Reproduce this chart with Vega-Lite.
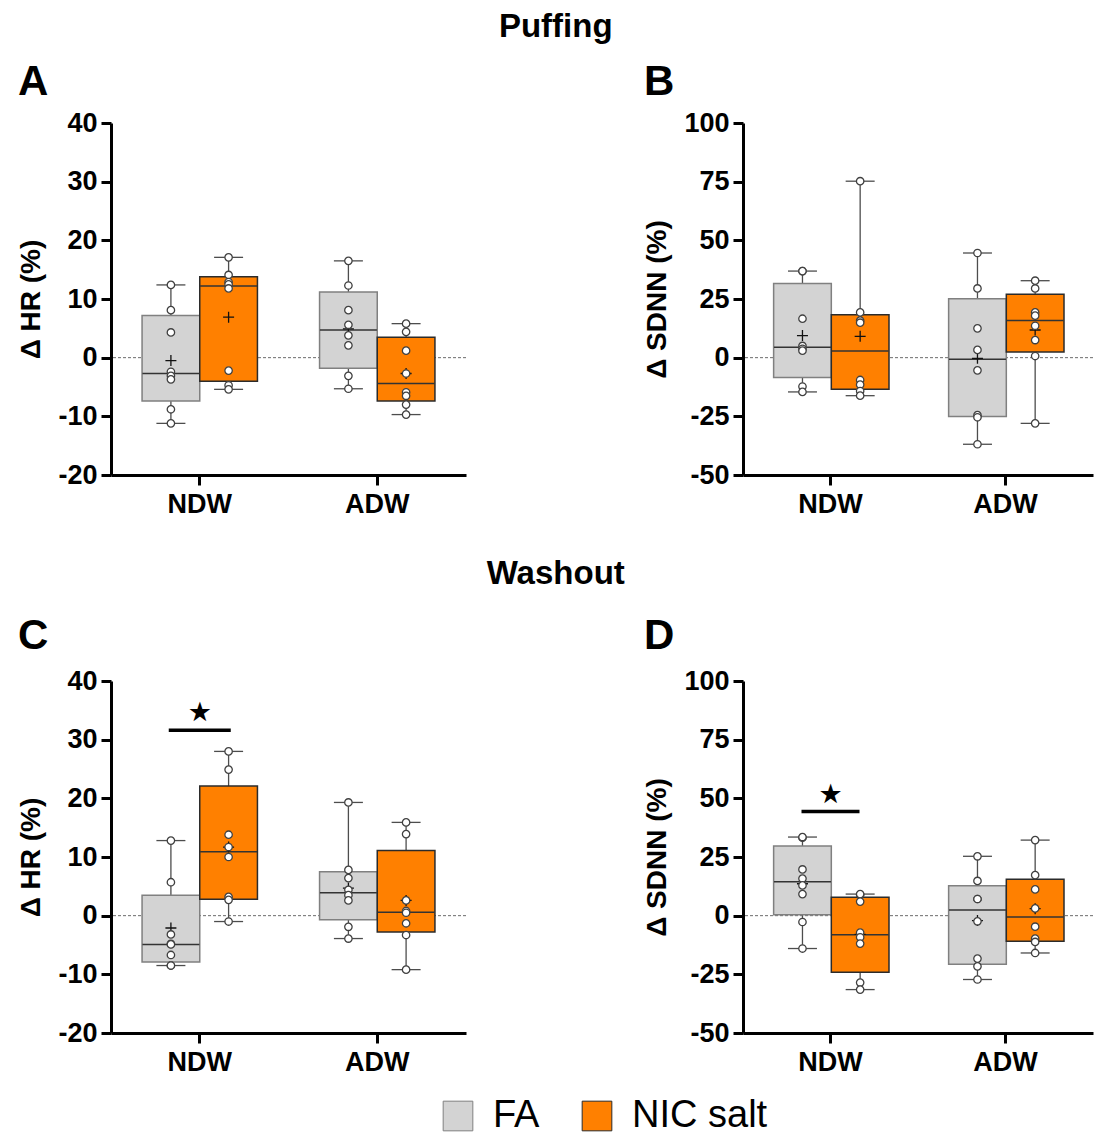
{
"$schema":"https://vega.github.io/schema/vega-lite/v6.json",
"padding":{"left":17,"top":11,"right":0,"bottom":0},
"background":"white",
"datasets":{
"boxes":[
{"panel":"A","window":"NDW","group":"FA","min":-11.2,"q1":-7.4,"median":-2.7,"q3":7.2,"max":12.4,"mean":-0.5},
{"panel":"A","window":"NDW","group":"NIC salt","min":-5.4,"q1":-4.0,"median":12.2,"q3":13.8,"max":17.1,"mean":6.9},
{"panel":"A","window":"ADW","group":"FA","min":-5.3,"q1":-1.8,"median":4.7,"q3":11.2,"max":16.5,"mean":4.9},
{"panel":"A","window":"ADW","group":"NIC salt","min":-9.7,"q1":-7.4,"median":-4.4,"q3":3.5,"max":5.8,"mean":-2.7},
{"panel":"B","window":"NDW","group":"FA","min":-14.6,"q1":-8.5,"median":4.4,"q3":31.6,"max":36.9,"mean":9.4},
{"panel":"B","window":"NDW","group":"NIC salt","min":-16.2,"q1":-13.5,"median":2.8,"q3":18.3,"max":75.2,"mean":9.1},
{"panel":"B","window":"ADW","group":"FA","min":-36.9,"q1":-25.1,"median":-0.7,"q3":25.1,"max":44.6,"mean":-0.3},
{"panel":"B","window":"ADW","group":"NIC salt","min":-28.0,"q1":2.4,"median":15.8,"q3":27.0,"max":32.8,"mean":11.8},
{"panel":"C","window":"NDW","group":"FA","min":-8.5,"q1":-7.9,"median":-4.9,"q3":3.5,"max":12.8,"mean":-2.1},
{"panel":"C","window":"NDW","group":"NIC salt","min":-1.0,"q1":2.8,"median":10.9,"q3":22.1,"max":28.0,"mean":11.7},
{"panel":"C","window":"ADW","group":"FA","min":-3.9,"q1":-0.7,"median":3.9,"q3":7.5,"max":19.3,"mean":4.7},
{"panel":"C","window":"ADW","group":"NIC salt","min":-9.2,"q1":-2.8,"median":0.6,"q3":11.1,"max":15.9,"mean":2.6},
{"panel":"D","window":"NDW","group":"FA","min":-14.0,"q1":0.4,"median":14.5,"q3":29.7,"max":33.5,"mean":13.6},
{"panel":"D","window":"NDW","group":"NIC salt","min":-31.5,"q1":-24.1,"median":-8.1,"q3":7.9,"max":9.2,"mean":-8.0},
{"panel":"D","window":"ADW","group":"FA","min":-27.2,"q1":-20.7,"median":2.4,"q3":12.8,"max":25.3,"mean":-2.1},
{"panel":"D","window":"ADW","group":"NIC salt","min":-15.9,"q1":-10.9,"median":-0.6,"q3":15.5,"max":32.2,"mean":3.0}
],
"points":[
{"panel":"A","window":"NDW","group":"FA","value":12.4},{"panel":"A","window":"NDW","group":"FA","value":8.1},{"panel":"A","window":"NDW","group":"FA","value":4.3},{"panel":"A","window":"NDW","group":"FA","value":-2.4},{"panel":"A","window":"NDW","group":"FA","value":-3.1},{"panel":"A","window":"NDW","group":"FA","value":-3.7},{"panel":"A","window":"NDW","group":"FA","value":-8.8},{"panel":"A","window":"NDW","group":"FA","value":-11.2},
{"panel":"A","window":"NDW","group":"NIC salt","value":17.1},{"panel":"A","window":"NDW","group":"NIC salt","value":14.1},{"panel":"A","window":"NDW","group":"NIC salt","value":12.9},{"panel":"A","window":"NDW","group":"NIC salt","value":12.5},{"panel":"A","window":"NDW","group":"NIC salt","value":11.8},{"panel":"A","window":"NDW","group":"NIC salt","value":-2.2},{"panel":"A","window":"NDW","group":"NIC salt","value":-4.7},{"panel":"A","window":"NDW","group":"NIC salt","value":-5.4},
{"panel":"A","window":"ADW","group":"FA","value":16.5},{"panel":"A","window":"ADW","group":"FA","value":12.3},{"panel":"A","window":"ADW","group":"FA","value":8.1},{"panel":"A","window":"ADW","group":"FA","value":5.6},{"panel":"A","window":"ADW","group":"FA","value":3.8},{"panel":"A","window":"ADW","group":"FA","value":2.1},{"panel":"A","window":"ADW","group":"FA","value":-3.1},{"panel":"A","window":"ADW","group":"FA","value":-5.3},
{"panel":"A","window":"ADW","group":"NIC salt","value":5.8},{"panel":"A","window":"ADW","group":"NIC salt","value":4.4},{"panel":"A","window":"ADW","group":"NIC salt","value":1.2},{"panel":"A","window":"ADW","group":"NIC salt","value":-2.7},{"panel":"A","window":"ADW","group":"NIC salt","value":-5.9},{"panel":"A","window":"ADW","group":"NIC salt","value":-6.5},{"panel":"A","window":"ADW","group":"NIC salt","value":-8.0},{"panel":"A","window":"ADW","group":"NIC salt","value":-9.7},
{"panel":"B","window":"NDW","group":"FA","value":36.9},{"panel":"B","window":"NDW","group":"FA","value":36.9},{"panel":"B","window":"NDW","group":"FA","value":16.6},{"panel":"B","window":"NDW","group":"FA","value":5.0},{"panel":"B","window":"NDW","group":"FA","value":3.8},{"panel":"B","window":"NDW","group":"FA","value":3.0},{"panel":"B","window":"NDW","group":"FA","value":-12.3},{"panel":"B","window":"NDW","group":"FA","value":-14.6},
{"panel":"B","window":"NDW","group":"NIC salt","value":75.2},{"panel":"B","window":"NDW","group":"NIC salt","value":19.3},{"panel":"B","window":"NDW","group":"NIC salt","value":15.8},{"panel":"B","window":"NDW","group":"NIC salt","value":14.9},{"panel":"B","window":"NDW","group":"NIC salt","value":-9.5},{"panel":"B","window":"NDW","group":"NIC salt","value":-11.5},{"panel":"B","window":"NDW","group":"NIC salt","value":-14.2},{"panel":"B","window":"NDW","group":"NIC salt","value":-16.2},
{"panel":"B","window":"ADW","group":"FA","value":44.6},{"panel":"B","window":"ADW","group":"FA","value":29.5},{"panel":"B","window":"ADW","group":"FA","value":12.5},{"panel":"B","window":"ADW","group":"FA","value":3.3},{"panel":"B","window":"ADW","group":"FA","value":-5.4},{"panel":"B","window":"ADW","group":"FA","value":-24.5},{"panel":"B","window":"ADW","group":"FA","value":-25.4},{"panel":"B","window":"ADW","group":"FA","value":-36.9},
{"panel":"B","window":"ADW","group":"NIC salt","value":32.8},{"panel":"B","window":"ADW","group":"NIC salt","value":29.5},{"panel":"B","window":"ADW","group":"NIC salt","value":19.3},{"panel":"B","window":"ADW","group":"NIC salt","value":17.9},{"panel":"B","window":"ADW","group":"NIC salt","value":13.6},{"panel":"B","window":"ADW","group":"NIC salt","value":7.5},{"panel":"B","window":"ADW","group":"NIC salt","value":0.7},{"panel":"B","window":"ADW","group":"NIC salt","value":-28.0},
{"panel":"C","window":"NDW","group":"FA","value":12.8},{"panel":"C","window":"NDW","group":"FA","value":5.7},{"panel":"C","window":"NDW","group":"FA","value":-3.2},{"panel":"C","window":"NDW","group":"FA","value":-4.8},{"panel":"C","window":"NDW","group":"FA","value":-4.9},{"panel":"C","window":"NDW","group":"FA","value":-6.7},{"panel":"C","window":"NDW","group":"FA","value":-8.5},{"panel":"C","window":"NDW","group":"FA","value":-8.5},
{"panel":"C","window":"NDW","group":"NIC salt","value":28.0},{"panel":"C","window":"NDW","group":"NIC salt","value":24.9},{"panel":"C","window":"NDW","group":"NIC salt","value":13.8},{"panel":"C","window":"NDW","group":"NIC salt","value":11.7},{"panel":"C","window":"NDW","group":"NIC salt","value":10.0},{"panel":"C","window":"NDW","group":"NIC salt","value":3.2},{"panel":"C","window":"NDW","group":"NIC salt","value":2.7},{"panel":"C","window":"NDW","group":"NIC salt","value":-1.0},
{"panel":"C","window":"ADW","group":"FA","value":19.3},{"panel":"C","window":"ADW","group":"FA","value":7.8},{"panel":"C","window":"ADW","group":"FA","value":6.4},{"panel":"C","window":"ADW","group":"FA","value":4.4},{"panel":"C","window":"ADW","group":"FA","value":3.5},{"panel":"C","window":"ADW","group":"FA","value":2.6},{"panel":"C","window":"ADW","group":"FA","value":-1.9},{"panel":"C","window":"ADW","group":"FA","value":-3.9},
{"panel":"C","window":"ADW","group":"NIC salt","value":15.9},{"panel":"C","window":"ADW","group":"NIC salt","value":13.9},{"panel":"C","window":"ADW","group":"NIC salt","value":2.6},{"panel":"C","window":"ADW","group":"NIC salt","value":0.8},{"panel":"C","window":"ADW","group":"NIC salt","value":0.5},{"panel":"C","window":"ADW","group":"NIC salt","value":-1.3},{"panel":"C","window":"ADW","group":"NIC salt","value":-3.3},{"panel":"C","window":"ADW","group":"NIC salt","value":-9.2},
{"panel":"D","window":"NDW","group":"FA","value":33.2},{"panel":"D","window":"NDW","group":"FA","value":33.5},{"panel":"D","window":"NDW","group":"FA","value":19.7},{"panel":"D","window":"NDW","group":"FA","value":15.8},{"panel":"D","window":"NDW","group":"FA","value":12.9},{"panel":"D","window":"NDW","group":"FA","value":9.2},{"panel":"D","window":"NDW","group":"FA","value":-2.7},{"panel":"D","window":"NDW","group":"FA","value":-14.0},
{"panel":"D","window":"NDW","group":"NIC salt","value":8.9},{"panel":"D","window":"NDW","group":"NIC salt","value":9.2},{"panel":"D","window":"NDW","group":"NIC salt","value":6.0},{"panel":"D","window":"NDW","group":"NIC salt","value":-7.2},{"panel":"D","window":"NDW","group":"NIC salt","value":-9.2},{"panel":"D","window":"NDW","group":"NIC salt","value":-11.9},{"panel":"D","window":"NDW","group":"NIC salt","value":-28.5},{"panel":"D","window":"NDW","group":"NIC salt","value":-31.5},
{"panel":"D","window":"ADW","group":"FA","value":25.3},{"panel":"D","window":"ADW","group":"FA","value":14.8},{"panel":"D","window":"ADW","group":"FA","value":7.1},{"panel":"D","window":"ADW","group":"FA","value":7.1},{"panel":"D","window":"ADW","group":"FA","value":-2.4},{"panel":"D","window":"ADW","group":"FA","value":-18.3},{"panel":"D","window":"ADW","group":"FA","value":-21.6},{"panel":"D","window":"ADW","group":"FA","value":-27.2},
{"panel":"D","window":"ADW","group":"NIC salt","value":32.2},{"panel":"D","window":"ADW","group":"NIC salt","value":17.3},{"panel":"D","window":"ADW","group":"NIC salt","value":11.2},{"panel":"D","window":"ADW","group":"NIC salt","value":3.1},{"panel":"D","window":"ADW","group":"NIC salt","value":-4.7},{"panel":"D","window":"ADW","group":"NIC salt","value":-9.8},{"panel":"D","window":"ADW","group":"NIC salt","value":-11.2},{"panel":"D","window":"ADW","group":"NIC salt","value":-15.9}
],
"sig":[
{"panel":"C","window":"NDW","bar":31.6,"star":34.6},
{"panel":"D","window":"NDW","bar":44.4,"star":51.5}
]
},
"vconcat":[
{"title":{"text":"Puffing","fontSize":33,"anchor":"middle","offset":17},
 "spacing":176,
 "hconcat":[
 {"width":355,"height":352,"title":{"text":"A","fontSize":42,"anchor":"start","dx":0,"offset":5},
  "layer":[
   {"data":{"values":[{}]},"mark":{"type":"rule","color":"#6b6b6b","strokeDash":[3,2],"strokeWidth":1},"encoding":{"y":{"datum":0}}},
   {"data":{"name":"boxes"},"transform":[{"filter":"datum.panel==='A'"}],"mark":{"type":"rule","color":"#4d4d4d","strokeWidth":1.3},
    "encoding":{"x":{"field":"window","type":"nominal","scale":{"domain":["NDW","ADW"],"paddingInner":0.35,"paddingOuter":0.175},"axis":{"title":null,"labelAngle":0}},
     "xOffset":{"field":"group","type":"nominal","scale":{"domain":["FA","NIC salt"],"paddingInner":0,"paddingOuter":0}},
     "y":{"field":"min","type":"quantitative","scale":{"domain":[-20,40],"nice":false},"axis":{"values":[-20,-10,0,10,20,30,40],"title":"Δ HR (%)"}},
     "y2":{"field":"max"}}},
   {"data":{"name":"boxes"},"transform":[{"filter":"datum.panel==='A'"}],"mark":{"type":"tick","orient":"horizontal","size":29,"thickness":1.3,"color":"#4d4d4d","opacity":1},
    "encoding":{"x":{"field":"window","type":"nominal"},"xOffset":{"field":"group","type":"nominal"},"y":{"field":"min","type":"quantitative"}}},
   {"data":{"name":"boxes"},"transform":[{"filter":"datum.panel==='A'"}],"mark":{"type":"tick","orient":"horizontal","size":29,"thickness":1.3,"color":"#4d4d4d","opacity":1},
    "encoding":{"x":{"field":"window","type":"nominal"},"xOffset":{"field":"group","type":"nominal"},"y":{"field":"max","type":"quantitative"}}},
   {"data":{"name":"boxes"},"transform":[{"filter":"datum.panel==='A'"}],"mark":{"type":"bar","strokeWidth":1.5,"opacity":1},
    "encoding":{"x":{"field":"window","type":"nominal"},"xOffset":{"field":"group","type":"nominal"},"y":{"field":"q1","type":"quantitative"},"y2":{"field":"q3"},
     "color":{"field":"group","type":"nominal","scale":{"domain":["FA","NIC salt"],"range":["#d3d3d3","#ff8000"]},"legend":{"title":null}},
     "stroke":{"field":"group","type":"nominal","scale":{"domain":["FA","NIC salt"],"range":["#808080","#2b2b2b"]},"legend":null}}},
   {"data":{"name":"boxes"},"transform":[{"filter":"datum.panel==='A'"}],"mark":{"type":"tick","orient":"horizontal","size":57,"thickness":1.5,"color":"#333333","opacity":1},
    "encoding":{"x":{"field":"window","type":"nominal"},"xOffset":{"field":"group","type":"nominal"},"y":{"field":"median","type":"quantitative"}}},
   {"data":{"name":"boxes"},"transform":[{"filter":"datum.panel==='A'"}],"mark":{"type":"point","shape":"M-1,0H1M0,-1V1","size":121,"filled":false,"stroke":"#111111","strokeWidth":1.3,"opacity":1},
    "encoding":{"x":{"field":"window","type":"nominal"},"xOffset":{"field":"group","type":"nominal"},"y":{"field":"mean","type":"quantitative"}}},
   {"data":{"name":"points"},"transform":[{"filter":"datum.panel==='A'"}],"mark":{"type":"point","shape":"circle","size":55,"filled":true,"fill":"white","stroke":"#404040","strokeWidth":1.3,"opacity":1},
    "encoding":{"x":{"field":"window","type":"nominal"},"xOffset":{"field":"group","type":"nominal"},"y":{"field":"value","type":"quantitative"}}}
  ]},
 {"width":350,"height":352,"title":{"text":"B","fontSize":42,"anchor":"start","dx":0,"offset":5},
  "layer":[
   {"data":{"values":[{}]},"mark":{"type":"rule","color":"#6b6b6b","strokeDash":[3,2],"strokeWidth":1},"encoding":{"y":{"datum":0}}},
   {"data":{"name":"boxes"},"transform":[{"filter":"datum.panel==='B'"}],"mark":{"type":"rule","color":"#4d4d4d","strokeWidth":1.3},
    "encoding":{"x":{"field":"window","type":"nominal","scale":{"domain":["NDW","ADW"],"paddingInner":0.35,"paddingOuter":0.175},"axis":{"title":null,"labelAngle":0}},
     "xOffset":{"field":"group","type":"nominal","scale":{"domain":["FA","NIC salt"],"paddingInner":0,"paddingOuter":0}},
     "y":{"field":"min","type":"quantitative","scale":{"domain":[-50,100],"nice":false},"axis":{"values":[-50,-25,0,25,50,75,100],"title":"Δ SDNN (%)"}},
     "y2":{"field":"max"}}},
   {"data":{"name":"boxes"},"transform":[{"filter":"datum.panel==='B'"}],"mark":{"type":"tick","orient":"horizontal","size":29,"thickness":1.3,"color":"#4d4d4d","opacity":1},
    "encoding":{"x":{"field":"window","type":"nominal"},"xOffset":{"field":"group","type":"nominal"},"y":{"field":"min","type":"quantitative"}}},
   {"data":{"name":"boxes"},"transform":[{"filter":"datum.panel==='B'"}],"mark":{"type":"tick","orient":"horizontal","size":29,"thickness":1.3,"color":"#4d4d4d","opacity":1},
    "encoding":{"x":{"field":"window","type":"nominal"},"xOffset":{"field":"group","type":"nominal"},"y":{"field":"max","type":"quantitative"}}},
   {"data":{"name":"boxes"},"transform":[{"filter":"datum.panel==='B'"}],"mark":{"type":"bar","strokeWidth":1.5,"opacity":1},
    "encoding":{"x":{"field":"window","type":"nominal"},"xOffset":{"field":"group","type":"nominal"},"y":{"field":"q1","type":"quantitative"},"y2":{"field":"q3"},
     "color":{"field":"group","type":"nominal","scale":{"domain":["FA","NIC salt"],"range":["#d3d3d3","#ff8000"]},"legend":{"title":null}},
     "stroke":{"field":"group","type":"nominal","scale":{"domain":["FA","NIC salt"],"range":["#808080","#2b2b2b"]},"legend":null}}},
   {"data":{"name":"boxes"},"transform":[{"filter":"datum.panel==='B'"}],"mark":{"type":"tick","orient":"horizontal","size":57,"thickness":1.5,"color":"#333333","opacity":1},
    "encoding":{"x":{"field":"window","type":"nominal"},"xOffset":{"field":"group","type":"nominal"},"y":{"field":"median","type":"quantitative"}}},
   {"data":{"name":"boxes"},"transform":[{"filter":"datum.panel==='B'"}],"mark":{"type":"point","shape":"M-1,0H1M0,-1V1","size":121,"filled":false,"stroke":"#111111","strokeWidth":1.3,"opacity":1},
    "encoding":{"x":{"field":"window","type":"nominal"},"xOffset":{"field":"group","type":"nominal"},"y":{"field":"mean","type":"quantitative"}}},
   {"data":{"name":"points"},"transform":[{"filter":"datum.panel==='B'"}],"mark":{"type":"point","shape":"circle","size":55,"filled":true,"fill":"white","stroke":"#404040","strokeWidth":1.3,"opacity":1},
    "encoding":{"x":{"field":"window","type":"nominal"},"xOffset":{"field":"group","type":"nominal"},"y":{"field":"value","type":"quantitative"}}}
  ]}
 ]},
{"title":{"text":"Washout","fontSize":33,"anchor":"middle","offset":24},
 "spacing":176,
 "hconcat":[
 {"width":355,"height":352,"title":{"text":"C","fontSize":42,"anchor":"start","dx":0,"offset":9},
  "layer":[
   {"data":{"values":[{}]},"mark":{"type":"rule","color":"#6b6b6b","strokeDash":[3,2],"strokeWidth":1},"encoding":{"y":{"datum":0}}},
   {"data":{"name":"boxes"},"transform":[{"filter":"datum.panel==='C'"}],"mark":{"type":"rule","color":"#4d4d4d","strokeWidth":1.3},
    "encoding":{"x":{"field":"window","type":"nominal","scale":{"domain":["NDW","ADW"],"paddingInner":0.35,"paddingOuter":0.175},"axis":{"title":null,"labelAngle":0}},
     "xOffset":{"field":"group","type":"nominal","scale":{"domain":["FA","NIC salt"],"paddingInner":0,"paddingOuter":0}},
     "y":{"field":"min","type":"quantitative","scale":{"domain":[-20,40],"nice":false},"axis":{"values":[-20,-10,0,10,20,30,40],"title":"Δ HR (%)"}},
     "y2":{"field":"max"}}},
   {"data":{"name":"boxes"},"transform":[{"filter":"datum.panel==='C'"}],"mark":{"type":"tick","orient":"horizontal","size":29,"thickness":1.3,"color":"#4d4d4d","opacity":1},
    "encoding":{"x":{"field":"window","type":"nominal"},"xOffset":{"field":"group","type":"nominal"},"y":{"field":"min","type":"quantitative"}}},
   {"data":{"name":"boxes"},"transform":[{"filter":"datum.panel==='C'"}],"mark":{"type":"tick","orient":"horizontal","size":29,"thickness":1.3,"color":"#4d4d4d","opacity":1},
    "encoding":{"x":{"field":"window","type":"nominal"},"xOffset":{"field":"group","type":"nominal"},"y":{"field":"max","type":"quantitative"}}},
   {"data":{"name":"boxes"},"transform":[{"filter":"datum.panel==='C'"}],"mark":{"type":"bar","strokeWidth":1.5,"opacity":1},
    "encoding":{"x":{"field":"window","type":"nominal"},"xOffset":{"field":"group","type":"nominal"},"y":{"field":"q1","type":"quantitative"},"y2":{"field":"q3"},
     "color":{"field":"group","type":"nominal","scale":{"domain":["FA","NIC salt"],"range":["#d3d3d3","#ff8000"]},"legend":{"title":null}},
     "stroke":{"field":"group","type":"nominal","scale":{"domain":["FA","NIC salt"],"range":["#808080","#2b2b2b"]},"legend":null}}},
   {"data":{"name":"boxes"},"transform":[{"filter":"datum.panel==='C'"}],"mark":{"type":"tick","orient":"horizontal","size":57,"thickness":1.5,"color":"#333333","opacity":1},
    "encoding":{"x":{"field":"window","type":"nominal"},"xOffset":{"field":"group","type":"nominal"},"y":{"field":"median","type":"quantitative"}}},
   {"data":{"name":"boxes"},"transform":[{"filter":"datum.panel==='C'"}],"mark":{"type":"point","shape":"M-1,0H1M0,-1V1","size":121,"filled":false,"stroke":"#111111","strokeWidth":1.3,"opacity":1},
    "encoding":{"x":{"field":"window","type":"nominal"},"xOffset":{"field":"group","type":"nominal"},"y":{"field":"mean","type":"quantitative"}}},
   {"data":{"name":"points"},"transform":[{"filter":"datum.panel==='C'"}],"mark":{"type":"point","shape":"circle","size":55,"filled":true,"fill":"white","stroke":"#404040","strokeWidth":1.3,"opacity":1},
    "encoding":{"x":{"field":"window","type":"nominal"},"xOffset":{"field":"group","type":"nominal"},"y":{"field":"value","type":"quantitative"}}},
   {"data":{"name":"sig"},"transform":[{"filter":"datum.panel==='C'"}],"mark":{"type":"tick","orient":"horizontal","size":62,"thickness":3.5,"color":"black","opacity":1},
    "encoding":{"x":{"field":"window","type":"nominal"},"y":{"field":"bar","type":"quantitative"}}},
   {"data":{"name":"sig"},"transform":[{"filter":"datum.panel==='C'"}],"mark":{"type":"text","text":"★","fontSize":27,"font":"DejaVu Sans","baseline":"middle","align":"center","color":"black"},
    "encoding":{"x":{"field":"window","type":"nominal"},"y":{"field":"star","type":"quantitative"}}}
  ]},
 {"width":350,"height":352,"title":{"text":"D","fontSize":42,"anchor":"start","dx":0,"offset":9},
  "layer":[
   {"data":{"values":[{}]},"mark":{"type":"rule","color":"#6b6b6b","strokeDash":[3,2],"strokeWidth":1},"encoding":{"y":{"datum":0}}},
   {"data":{"name":"boxes"},"transform":[{"filter":"datum.panel==='D'"}],"mark":{"type":"rule","color":"#4d4d4d","strokeWidth":1.3},
    "encoding":{"x":{"field":"window","type":"nominal","scale":{"domain":["NDW","ADW"],"paddingInner":0.35,"paddingOuter":0.175},"axis":{"title":null,"labelAngle":0}},
     "xOffset":{"field":"group","type":"nominal","scale":{"domain":["FA","NIC salt"],"paddingInner":0,"paddingOuter":0}},
     "y":{"field":"min","type":"quantitative","scale":{"domain":[-50,100],"nice":false},"axis":{"values":[-50,-25,0,25,50,75,100],"title":"Δ SDNN (%)"}},
     "y2":{"field":"max"}}},
   {"data":{"name":"boxes"},"transform":[{"filter":"datum.panel==='D'"}],"mark":{"type":"tick","orient":"horizontal","size":29,"thickness":1.3,"color":"#4d4d4d","opacity":1},
    "encoding":{"x":{"field":"window","type":"nominal"},"xOffset":{"field":"group","type":"nominal"},"y":{"field":"min","type":"quantitative"}}},
   {"data":{"name":"boxes"},"transform":[{"filter":"datum.panel==='D'"}],"mark":{"type":"tick","orient":"horizontal","size":29,"thickness":1.3,"color":"#4d4d4d","opacity":1},
    "encoding":{"x":{"field":"window","type":"nominal"},"xOffset":{"field":"group","type":"nominal"},"y":{"field":"max","type":"quantitative"}}},
   {"data":{"name":"boxes"},"transform":[{"filter":"datum.panel==='D'"}],"mark":{"type":"bar","strokeWidth":1.5,"opacity":1},
    "encoding":{"x":{"field":"window","type":"nominal"},"xOffset":{"field":"group","type":"nominal"},"y":{"field":"q1","type":"quantitative"},"y2":{"field":"q3"},
     "color":{"field":"group","type":"nominal","scale":{"domain":["FA","NIC salt"],"range":["#d3d3d3","#ff8000"]},"legend":{"title":null}},
     "stroke":{"field":"group","type":"nominal","scale":{"domain":["FA","NIC salt"],"range":["#808080","#2b2b2b"]},"legend":null}}},
   {"data":{"name":"boxes"},"transform":[{"filter":"datum.panel==='D'"}],"mark":{"type":"tick","orient":"horizontal","size":57,"thickness":1.5,"color":"#333333","opacity":1},
    "encoding":{"x":{"field":"window","type":"nominal"},"xOffset":{"field":"group","type":"nominal"},"y":{"field":"median","type":"quantitative"}}},
   {"data":{"name":"boxes"},"transform":[{"filter":"datum.panel==='D'"}],"mark":{"type":"point","shape":"M-1,0H1M0,-1V1","size":121,"filled":false,"stroke":"#111111","strokeWidth":1.3,"opacity":1},
    "encoding":{"x":{"field":"window","type":"nominal"},"xOffset":{"field":"group","type":"nominal"},"y":{"field":"mean","type":"quantitative"}}},
   {"data":{"name":"points"},"transform":[{"filter":"datum.panel==='D'"}],"mark":{"type":"point","shape":"circle","size":55,"filled":true,"fill":"white","stroke":"#404040","strokeWidth":1.3,"opacity":1},
    "encoding":{"x":{"field":"window","type":"nominal"},"xOffset":{"field":"group","type":"nominal"},"y":{"field":"value","type":"quantitative"}}},
   {"data":{"name":"sig"},"transform":[{"filter":"datum.panel==='D'"}],"mark":{"type":"tick","orient":"horizontal","size":58,"thickness":3.5,"color":"black","opacity":1},
    "encoding":{"x":{"field":"window","type":"nominal"},"y":{"field":"bar","type":"quantitative"}}},
   {"data":{"name":"sig"},"transform":[{"filter":"datum.panel==='D'"}],"mark":{"type":"text","text":"★","fontSize":27,"font":"DejaVu Sans","baseline":"middle","align":"center","color":"black"},
    "encoding":{"x":{"field":"window","type":"nominal"},"y":{"field":"star","type":"quantitative"}}}
  ]}
 ]}
],
"spacing":41,
"config":{
 "font":"Liberation Sans",
 "view":{"stroke":null},
 "axis":{"domainColor":"black","domainWidth":3,"tickColor":"black","tickWidth":3,"tickSize":10,"labelFont":"Liberation Sans","labelFontSize":27,"labelFontWeight":"bold","labelColor":"black","grid":false,"titleFont":"Liberation Sans","titleFontSize":28,"titleFontWeight":"bold","titleColor":"black"},
 "axisX":{"labelPadding":6},
 "axisY":{"labelPadding":4,"titlePadding":12,"labelExpr":"'' + datum.value"},
 "title":{"font":"Liberation Sans","fontWeight":"bold","color":"black"},
 "legend":{"orient":"none","legendX":328,"legendY":974,"direction":"horizontal","symbolType":"square","symbolSize":880,"symbolStrokeColor":"#8c8c8c","symbolStrokeWidth":1,"symbolOpacity":1,"labelFont":"Liberation Sans","labelFontSize":38,"labelColor":"black","labelOffset":16,"columnPadding":38,"labelLimit":400}
}
}
